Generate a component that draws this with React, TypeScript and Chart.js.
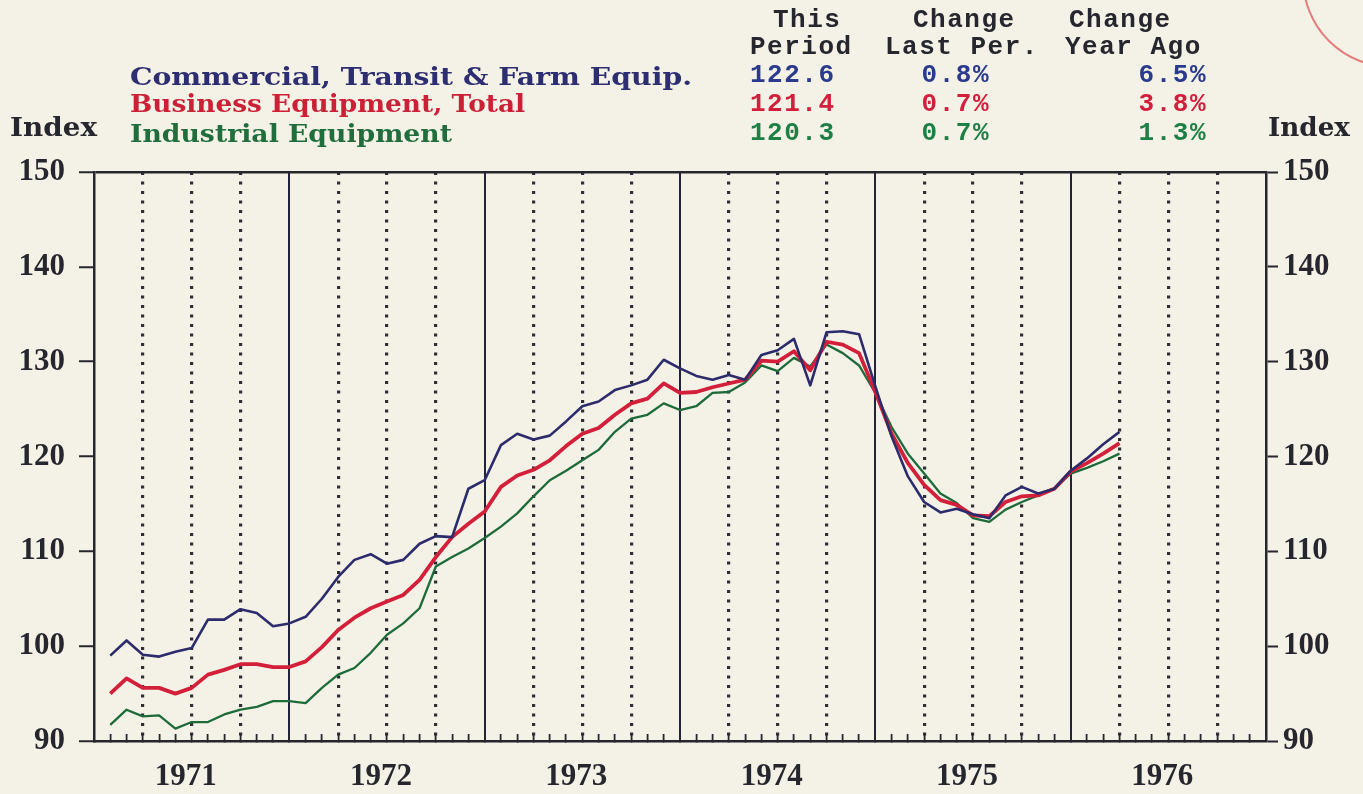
import React, { useEffect, useRef } from 'react';
import { Chart, registerables } from 'chart.js';

Chart.register(...registerables);

// ---------- data ----------
const yearLabels = ['1971', '1972', '1973', '1974', '1975', '1976'];
const seriesNames = [
  'Commercial, Transit & Farm Equip.',
  'Business Equipment, Total',
  'Industrial Equipment',
];
// monthly index values, Jan 1971 .. Mar 1976
const commercial = [
  99.0, 100.6, 99.1, 98.9, 99.4, 99.8, 102.8, 102.8, 103.9, 103.5, 102.1, 102.4,
  103.1, 105.0, 107.3, 109.1, 109.7, 108.7, 109.1, 110.8, 111.6, 111.5, 116.6, 117.5,
  121.2, 122.4, 121.8, 122.2, 123.7, 125.3, 125.8, 127.0, 127.5, 128.1, 130.2, 129.3,
  128.5, 128.1, 128.6, 128.1, 130.7, 131.2, 132.4, 127.5, 133.1, 133.2, 132.9, 127.4,
  122.1, 117.9, 115.2, 114.1, 114.5, 113.9, 113.5, 115.9, 116.8, 116.1, 116.6, 118.5,
  119.8, 121.3, 122.6,
];
const business = [
  95.0, 96.6, 95.6, 95.6, 95.0, 95.6, 97.0, 97.5, 98.1, 98.1, 97.8, 97.8,
  98.4, 99.9, 101.7, 103.0, 104.0, 104.7, 105.4, 107.0, 109.4, 111.5, 112.9, 114.2,
  116.8, 118.0, 118.6, 119.6, 121.1, 122.4, 123.0, 124.4, 125.6, 126.1, 127.7, 126.7,
  126.8, 127.3, 127.7, 128.1, 130.1, 130.0, 131.1, 129.1, 132.1, 131.8, 130.9, 126.8,
  122.4, 119.3, 117.0, 115.4, 114.9, 113.8, 113.7, 115.2, 115.8, 115.9, 116.6, 118.4,
  119.3, 120.3, 121.4,
];
const industrial = [
  91.7, 93.3, 92.6, 92.7, 91.3, 92.0, 92.0, 92.8, 93.3, 93.6, 94.2, 94.2,
  94.0, 95.6, 97.0, 97.7, 99.3, 101.2, 102.4, 104.0, 108.4, 109.4, 110.3, 111.4,
  112.6, 114.0, 115.8, 117.5, 118.5, 119.6, 120.7, 122.6, 124.0, 124.4, 125.6, 124.9,
  125.3, 126.7, 126.8, 127.8, 129.6, 129.0, 130.4, 129.5, 131.8, 130.9, 129.6, 126.7,
  123.1, 120.3, 118.2, 116.1, 115.1, 113.5, 113.1, 114.4, 115.2, 115.9, 116.6, 118.2,
  118.8, 119.5, 120.3,
];
const thisPeriod = ['122.6', '121.4', '120.3'];
const changeLastPer = ['0.8%', '0.7%', '0.7%'];
const changeYearAgo = ['6.5%', '3.8%', '1.3%'];
const yMin = 90;
const yMax = 150;
const yStep = 10;
const monthCount = 72;

// ---------- styles ----------
const BG = '#f4f2e6';
const INK = '#26262e';
const GRID = '#22223a';
const DOT = '#2e2e36';
const LINE_COLORS = ['#2c2b6b', '#d41f3a', '#1e6b3a'];
const TEXT_COLORS = ['#2a3a8c', '#d21f3c', '#1e8045'];
const LEGEND_COLORS = ['#2d2d72', '#cc2036', '#1f6e3c'];
const SERIF = '"DejaVu Serif", serif';
const MONO = '"Liberation Mono", monospace';
const TICK_FONT = { family: '"Liberation Serif", serif', size: 31, weight: 'bold' as const };

let measureCtx: CanvasRenderingContext2D | null = null;
function measure(text: string, font: string): number {
  if (!measureCtx) measureCtx = document.createElement('canvas').getContext('2d');
  if (!measureCtx) return 1;
  measureCtx.font = font;
  return measureCtx.measureText(text).width || 1;
}

function FitText(props: {
  text: string; left: number; cy: number; size: number; color: string;
  width?: number; family?: string; weight?: string;
}) {
  const family = props.family || SERIF;
  const weight = props.weight || 'bold';
  const font = `${weight} ${props.size}px ${family}`;
  const sx = props.width ? props.width / measure(props.text, font) : 1;
  return (
    <div
      style={{
        position: 'absolute', left: props.left, top: props.cy - props.size * 0.6,
        font, lineHeight: `${props.size * 1.2}px`, whiteSpace: 'pre', color: props.color,
        transform: `scaleX(${sx})`, transformOrigin: 'left center',
      }}
    >
      {props.text}
    </div>
  );
}

function Mono(props: { text: string; left?: number; right?: number; cy: number; color: string }) {
  const size = 26;
  const style: React.CSSProperties = {
    position: 'absolute', top: props.cy - size * 0.56,
    fontFamily: MONO, fontWeight: 'bold', fontSize: size, lineHeight: `${size * 1.2}px`,
    letterSpacing: '1.5px', whiteSpace: 'pre', color: props.color,
  };
  if (props.right !== undefined) style.right = 1363 - props.right;
  else style.left = props.left;
  return <div style={style}>{props.text}</div>;
}

export default function App() {
  const ref = useRef<HTMLCanvasElement>(null);

  useEffect(() => {
    document.body.style.margin = '0';
    if (!ref.current) return;
    const monthTicks = Array.from({ length: monthCount + 1 }, (_, v) => v);
    const pts = (arr: number[]) => arr.map((v, i) => ({ x: i + 1, y: v }));
    const isYear = (v: number) => v % 12 === 0 && v > 0 && v < monthCount;
    const isQuarter = (v: number) => v % 3 === 0 && !isYear(v) && v > 0 && v < monthCount;
    const series = [commercial, business, industrial];
    const widths = [2.6, 3.8, 2.3];

    const chart = new Chart(ref.current, {
      type: 'line',
      data: {
        datasets: series.map((s, k) => ({
          label: seriesNames[k],
          data: pts(s),
          borderColor: LINE_COLORS[k],
          backgroundColor: LINE_COLORS[k],
          borderWidth: widths[k],
          pointRadius: 0,
          tension: 0,
          fill: false,
          borderJoinStyle: 'round',
          xAxisID: 'x',
          yAxisID: 'y',
        })),
      },
      options: {
        responsive: false,
        animation: false,
        events: [],
        layout: { padding: { top: 172, left: 0, right: 0, bottom: 0 } },
        plugins: { legend: { display: false }, tooltip: { enabled: false }, title: { display: false } },
        scales: {
          x: {
            type: 'linear',
            position: 'bottom',
            min: 0,
            max: monthCount,
            afterBuildTicks: (s: any) => {
              s.ticks = monthTicks.map((v) => ({ value: v }));
            },
            afterFit: (s: any) => {
              s.height = 53;
            },
            ticks: {
              autoSkip: false,
              maxRotation: 0,
              minRotation: 0,
              padding: 24,
              labelOffset: -6,
              color: INK,
              font: TICK_FONT,
              callback: (v: any) => (Number(v) % 12 === 6 ? yearLabels[(Number(v) - 6) / 12] : ''),
            },
            grid: {
              drawOnChartArea: true,
              drawTicks: true,
              tickLength: -7,
              color: (c: any) => {
                const v = c.tick ? c.tick.value : -1;
                if (isYear(v)) return GRID;
                if (isQuarter(v)) return DOT;
                return 'rgba(0,0,0,0)';
              },
              lineWidth: (c: any) => {
                const v = c.tick ? c.tick.value : -1;
                return isYear(v) ? 2 : 3.2;
              },
              tickColor: (c: any) => {
                const v = c.tick ? c.tick.value : -1;
                return v > 0 && v < monthCount ? INK : 'rgba(0,0,0,0)';
              },
              tickWidth: 1.8,
            },
            border: {
              display: true,
              color: INK,
              width: 2.5,
              dash: (c: any) => {
                const v = c.tick ? c.tick.value : -1;
                return isQuarter(v) ? [3, 6.5] : [];
              },
            },
          },
          y: {
            type: 'linear',
            position: 'left',
            min: yMin,
            max: yMax,
            afterFit: (s: any) => {
              s.width = 94;
            },
            ticks: { stepSize: yStep, padding: 14, color: INK, font: TICK_FONT },
            grid: {
              drawOnChartArea: true,
              drawTicks: true,
              tickLength: 15,
              tickWidth: 2,
              tickColor: INK,
              lineWidth: 2.5,
              color: (c: any) => (c.tick && c.tick.value === yMax ? INK : 'rgba(0,0,0,0)'),
            },
            border: { display: true, color: INK, width: 2.5 },
          },
          yRight: {
            type: 'linear',
            position: 'right',
            min: yMin,
            max: yMax,
            afterFit: (s: any) => {
              s.width = 97;
            },
            ticks: { stepSize: yStep, padding: 5, color: INK, font: TICK_FONT },
            grid: {
              drawOnChartArea: false,
              drawTicks: true,
              tickLength: 12,
              tickWidth: 2,
              tickColor: INK,
            },
            border: { display: true, color: INK, width: 2.5 },
          },
        },
      } as any,
    });
    return () => chart.destroy();
  }, []);

  return (
    <div
      style={{
        position: 'fixed', left: 0, top: 0, width: 1363, height: 794,
        background: BG, overflow: 'hidden',
      }}
    >
      <canvas ref={ref} width={1363} height={794} style={{ position: 'absolute', left: 0, top: 0, display: 'block' }} />

      {/* stamp remnant */}
      <div
        style={{
          position: 'absolute', left: 1302, top: -112, width: 180, height: 180,
          borderRadius: '50%', border: '2.5px solid rgba(222,104,104,0.85)', boxSizing: 'border-box',
        }}
      />

      {/* axis captions */}
      <FitText text="Index" left={10} cy={128} size={26} color={INK} width={87} />
      <FitText text="Index" left={1268} cy={128} size={26} color={INK} width={82} />

      {/* series legend */}
      <FitText text={seriesNames[0]} left={130} cy={77} size={25} color={LEGEND_COLORS[0]} width={562} />
      <FitText text={seriesNames[1]} left={130} cy={104} size={25} color={LEGEND_COLORS[1]} width={395} />
      <FitText text={seriesNames[2]} left={130} cy={134} size={25} color={LEGEND_COLORS[2]} width={322} />

      {/* table headers */}
      <Mono text="This" left={773} cy={20} color={INK} />
      <Mono text="Period" left={750} cy={47} color={INK} />
      <Mono text="Change" left={913} cy={20} color={INK} />
      <Mono text="Last Per." left={885} cy={47} color={INK} />
      <Mono text="Change" left={1069} cy={20} color={INK} />
      <Mono text="Year Ago" left={1065} cy={47} color={INK} />

      {/* table values */}
      {[75, 104, 133].map((cy, k) => (
        <React.Fragment key={k}>
          <Mono text={thisPeriod[k]} left={750} cy={cy} color={TEXT_COLORS[k]} />
          <Mono text={changeLastPer[k]} right={990} cy={cy} color={TEXT_COLORS[k]} />
          <Mono text={changeYearAgo[k]} right={1207} cy={cy} color={TEXT_COLORS[k]} />
        </React.Fragment>
      ))}
    </div>
  );
}
